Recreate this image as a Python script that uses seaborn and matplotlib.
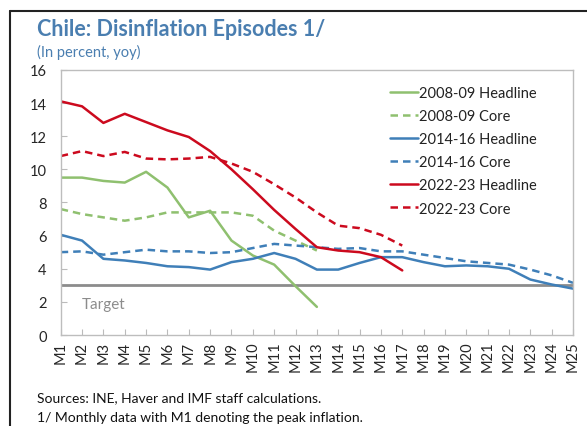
import numpy as np
import pandas as pd
import matplotlib
matplotlib.use("Agg")
import matplotlib.pyplot as plt
import seaborn as sns
from matplotlib.lines import Line2D

sns.set_style("white")
plt.rcParams['font.family'] = ['Lato', 'DejaVu Sans']

months = ["M" + str(i) for i in range(1, 26)]

gfc_headline = [9.5, 9.5, 9.3, 9.2, 9.85, 8.9, 7.1, 7.5, 5.7, 4.8, 4.25, 2.95, 1.7]
gfc_core = [7.6, 7.3, 7.1, 6.9, 7.1, 7.4, 7.4, 7.4, 7.4, 7.2, 6.3, 5.7, 5.1]
mid_headline = [6.05, 5.7, 4.6, 4.5, 4.35, 4.15, 4.1, 3.95, 4.4, 4.6, 4.95, 4.6, 3.95,
                3.95, 4.35, 4.7, 4.7, 4.4, 4.15, 4.2, 4.15, 4.0, 3.35, 3.05, 2.8]
mid_core = [5.0, 5.05, 4.85, 5.0, 5.15, 5.05, 5.05, 4.95, 5.0, 5.25, 5.5, 5.4, 5.3,
            5.2, 5.25, 5.05, 5.05, 4.85, 4.65, 4.45, 4.35, 4.25, 3.95, 3.6, 3.15]
new_headline = [14.1, 13.8, 12.8, 13.35, 12.85, 12.35, 11.95, 11.1, 10.0, 8.8, 7.55,
                6.4, 5.3, 5.1, 5.0, 4.7, 3.9]
new_core = [10.8, 11.1, 10.8, 11.05, 10.65, 10.6, 10.65, 10.75, 10.35, 9.85, 9.1,
            8.3, 7.4, 6.6, 6.45, 6.05, 5.4]
target = 3

series = [
    ("2008-09 Headline", gfc_headline, "#8fc06f", "-"),
    ("2008-09 Core", gfc_core, "#8fc06f", (0, (3, 2))),
    ("2014-16 Headline", mid_headline, "#3f7fb8", "-"),
    ("2014-16 Core", mid_core, "#3f7fb8", (0, (3, 2))),
    ("2022-23 Headline", new_headline, "#cc0a1e", "-"),
    ("2022-23 Core", new_core, "#cc0a1e", (0, (3, 2))),
]

fig = plt.figure(figsize=(5.87, 4.27), dpi=100)
ax = fig.add_axes([0.1034, 0.213, 0.9762 - 0.1034, 0.834 - 0.213])

for name, vals, col, ls in series:
    sns.lineplot(x=np.arange(len(vals)), y=vals, color=col, linestyle=ls,
                 linewidth=1.8, label=name, ax=ax)

ax.axhline(target, color="#8c8c8c", linewidth=2, zorder=1)
ax.text(1.0, 1.9, "Target", color="#8c8c8c", fontsize=11, va="center")

ax.set_xlim(0, 24)
ax.set_ylim(0, 16)
ax.set_yticks(range(0, 17, 2))
ax.set_xticks(range(25))
ax.set_xticklabels(months, rotation=90, fontsize=10.5)
ax.tick_params(axis="y", labelsize=10.5, direction="in", length=4, color="#bbbbbb", left=True, pad=10)
ax.tick_params(axis="x", direction="in", length=4, color="#bbbbbb", bottom=True, pad=4)
for sp in ax.spines.values():
    sp.set_color("#bdbdbd")
    sp.set_linewidth(1)

leg = ax.legend(loc="upper left", bbox_to_anchor=(0.617, 0.99), frameon=False,
                fontsize=10.5, handlelength=1.9, handletextpad=0.1, labelspacing=0.63)
for t in leg.get_texts():
    t.set_color("#222222")

fig.text(0.063, 0.93, "Chile: Disinflation Episodes 1/", color="#4a7eb0",
         fontsize=15.5, fontweight="bold", va="center")
fig.text(0.063, 0.878, "(In percent, yoy)", color="#4a7eb0", fontsize=10.5, va="center")
fig.text(0.063, 0.068, "Sources: INE, Haver and IMF staff calculations.", fontsize=10,
         color="#111111", va="center")
fig.text(0.063, 0.021, "1/ Monthly data with M1 denoting the peak inflation.", fontsize=10,
         color="#111111", va="center")

fig.add_artist(Line2D([0.017, 1.0], [0.972, 0.972], color="#222222", linewidth=1.5))
fig.add_artist(Line2D([0.017, 0.017], [0.0, 0.972], color="#222222", linewidth=1.5))

fig.savefig("out.png", dpi=100)
